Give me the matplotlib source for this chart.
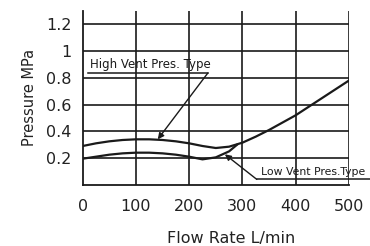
import matplotlib
matplotlib.use("Agg")
import matplotlib.pyplot as plt

# Data
flow_high = [0, 25, 50, 75, 100, 125, 150, 175, 200, 225, 250, 275, 300, 325, 350, 375, 400, 425, 450, 475, 500]
pres_high = [0.29, 0.31, 0.325, 0.335, 0.34, 0.34, 0.335, 0.325, 0.31, 0.29, 0.275, 0.285, 0.315, 0.36, 0.41, 0.465, 0.52, 0.585, 0.65, 0.715, 0.78]
flow_low = [0, 25, 50, 75, 100, 125, 150, 175, 200, 225, 250, 275, 290]
pres_low = [0.195, 0.21, 0.225, 0.235, 0.24, 0.24, 0.235, 0.225, 0.21, 0.19, 0.205, 0.25, 0.30]
x_ticks = [0, 100, 200, 300, 400, 500]
y_ticks = [0.2, 0.4, 0.6, 0.8, 1.0, 1.2]
y_tick_labels = ["0.2", "0.4", "0.6", "0.8", "1", "1.2"]

plt.rcParams['font.family'] = ['DejaVu Sans']
fig = plt.figure(figsize=(3.7, 2.46), dpi=100)
ax = fig.add_axes([0.2235, 0.249, 0.7195, 0.706])

ink = "#1a1a1a"
ax.set_xlim(0, 500)
ax.set_ylim(0, 1.3)
ax.set_xticks(x_ticks)
ax.set_yticks(y_ticks)
ax.set_yticklabels(y_tick_labels)
ax.tick_params(length=0, labelsize=11.5, colors="#222222")
ax.tick_params(axis='x', pad=10)
ax.tick_params(axis='y', pad=8)

for s in ['top', 'right']:
    ax.spines[s].set_visible(False)
for s in ['left', 'bottom']:
    ax.spines[s].set_color(ink)
    ax.spines[s].set_linewidth(1.3)

for xv in x_ticks[1:]:
    ax.axvline(xv, color=ink, lw=1.2, zorder=1)
for yv in y_ticks:
    ax.axhline(yv, color=ink, lw=1.2, zorder=1)

ax.plot(flow_high, pres_high, color=ink, lw=1.6, zorder=3)
ax.plot(flow_low, pres_low, color=ink, lw=1.6, zorder=3)

# High vent annotation
ax.text(14, 0.873, "High Vent Pres. Type", fontsize=8.5, color=ink, ha='left', va='baseline')
ax.plot([10, 235], [0.836, 0.836], color=ink, lw=1.1, clip_on=False, zorder=4)
ax.annotate("", xy=(141, 0.34), xytext=(235, 0.836),
            arrowprops=dict(arrowstyle='-|>', color=ink, lw=1.0, mutation_scale=9,
                            shrinkA=0, shrinkB=0))

# Low vent annotation
ax.text(334, 0.073, "Low Vent Pres.Type", fontsize=7.8, color=ink, ha='left', va='baseline',
        clip_on=False)
ax.plot([327, 545], [0.04, 0.04], color=ink, lw=1.1, clip_on=False, zorder=4)
ax.annotate("", xy=(267, 0.228), xytext=(327, 0.04),
            arrowprops=dict(arrowstyle='-|>', color=ink, lw=1.0, mutation_scale=9,
                            shrinkA=0, shrinkB=0))

fig.text(231 / 370, 1 - 238 / 246, "Flow Rate L/min", fontsize=11.5, color="#222222",
         ha='center', va='center')
fig.text(29 / 370, 1 - 97 / 246, "Pressure MPa", fontsize=10.5, color="#222222",
         ha='center', va='center', rotation=90)

fig.savefig("out.png", dpi=100)
